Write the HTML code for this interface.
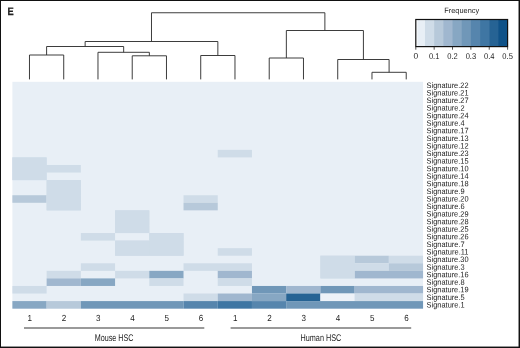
<!DOCTYPE html>
<html><head><meta charset="utf-8"><title>Figure E</title>
<style>html,body{margin:0;padding:0;background:#fff}svg{display:block}text{font-family:"Liberation Sans",sans-serif;fill:#222;text-rendering:geometricPrecision}</style></head><body>
<svg width="520" height="348" viewBox="0 0 520 348">
<rect x="0" y="0" width="520" height="348" fill="#fff"/>
<rect x="12.4" y="81.8" width="410.68" height="226.85" fill="#e8eff6"/>
<rect x="217.74" y="149.86" width="34.22" height="7.56" fill="#cfdce8"/>
<rect x="12.40" y="157.42" width="34.22" height="7.56" fill="#cfdce8"/>
<rect x="12.40" y="164.98" width="68.45" height="7.56" fill="#cfdce8"/>
<rect x="12.40" y="172.54" width="34.22" height="7.56" fill="#cfdce8"/>
<rect x="46.62" y="180.10" width="34.22" height="7.56" fill="#cfdce8"/>
<rect x="46.62" y="187.66" width="34.22" height="7.56" fill="#cfdce8"/>
<rect x="12.40" y="195.23" width="34.22" height="7.56" fill="#b7c9da"/>
<rect x="46.62" y="195.23" width="34.22" height="7.56" fill="#cfdce8"/>
<rect x="183.52" y="195.23" width="34.22" height="7.56" fill="#cfdce8"/>
<rect x="46.62" y="202.79" width="34.22" height="7.56" fill="#cfdce8"/>
<rect x="183.52" y="202.79" width="34.22" height="7.56" fill="#b7c9da"/>
<rect x="115.07" y="210.35" width="34.22" height="7.56" fill="#cfdce8"/>
<rect x="115.07" y="217.91" width="34.22" height="7.56" fill="#cfdce8"/>
<rect x="115.07" y="225.47" width="34.22" height="7.56" fill="#cfdce8"/>
<rect x="80.85" y="233.03" width="34.22" height="7.56" fill="#cfdce8"/>
<rect x="149.29" y="233.03" width="34.22" height="7.56" fill="#cfdce8"/>
<rect x="115.07" y="240.60" width="68.45" height="7.56" fill="#cfdce8"/>
<rect x="115.07" y="248.16" width="68.45" height="7.56" fill="#cfdce8"/>
<rect x="217.74" y="248.16" width="34.22" height="7.56" fill="#cfdce8"/>
<rect x="320.41" y="255.72" width="34.22" height="7.56" fill="#cfdce8"/>
<rect x="354.63" y="255.72" width="34.22" height="7.56" fill="#b7c9da"/>
<rect x="388.85" y="255.72" width="34.22" height="7.56" fill="#cfdce8"/>
<rect x="80.85" y="263.28" width="34.22" height="7.56" fill="#cfdce8"/>
<rect x="183.52" y="263.28" width="68.45" height="7.56" fill="#cfdce8"/>
<rect x="320.41" y="263.28" width="68.45" height="7.56" fill="#cfdce8"/>
<rect x="388.85" y="263.28" width="34.22" height="7.56" fill="#b7c9da"/>
<rect x="46.62" y="270.84" width="34.22" height="7.56" fill="#cfdce8"/>
<rect x="115.07" y="270.84" width="34.22" height="7.56" fill="#cfdce8"/>
<rect x="149.29" y="270.84" width="34.22" height="7.56" fill="#87a7c3"/>
<rect x="217.74" y="270.84" width="34.22" height="7.56" fill="#a0b7cf"/>
<rect x="320.41" y="270.84" width="34.22" height="7.56" fill="#cfdce8"/>
<rect x="354.63" y="270.84" width="68.45" height="7.56" fill="#a0b7cf"/>
<rect x="46.62" y="278.40" width="34.22" height="7.56" fill="#a0b7cf"/>
<rect x="80.85" y="278.40" width="34.22" height="7.56" fill="#87a7c3"/>
<rect x="149.29" y="278.40" width="34.22" height="7.56" fill="#cfdce8"/>
<rect x="217.74" y="278.40" width="34.22" height="7.56" fill="#cfdce8"/>
<rect x="12.40" y="285.97" width="34.22" height="7.56" fill="#cfdce8"/>
<rect x="251.96" y="285.97" width="34.22" height="7.56" fill="#7097b8"/>
<rect x="286.18" y="285.97" width="34.22" height="7.56" fill="#a0b7cf"/>
<rect x="320.41" y="285.97" width="34.22" height="7.56" fill="#7097b8"/>
<rect x="354.63" y="285.97" width="68.45" height="7.56" fill="#a0b7cf"/>
<rect x="183.52" y="293.53" width="34.22" height="7.56" fill="#cfdce8"/>
<rect x="217.74" y="293.53" width="34.22" height="7.56" fill="#a0b7cf"/>
<rect x="251.96" y="293.53" width="34.22" height="7.56" fill="#87a7c3"/>
<rect x="286.18" y="293.53" width="34.22" height="7.56" fill="#266394"/>
<rect x="320.41" y="293.53" width="34.22" height="7.56" fill="#edf2f8"/>
<rect x="354.63" y="293.53" width="68.45" height="7.56" fill="#cfdce8"/>
<rect x="12.40" y="301.09" width="34.22" height="7.56" fill="#87a7c3"/>
<rect x="46.62" y="301.09" width="34.22" height="7.56" fill="#b7c9da"/>
<rect x="80.85" y="301.09" width="102.67" height="7.56" fill="#7097b8"/>
<rect x="183.52" y="301.09" width="34.22" height="7.56" fill="#5685ad"/>
<rect x="217.74" y="301.09" width="34.22" height="7.56" fill="#3f76a3"/>
<rect x="251.96" y="301.09" width="34.22" height="7.56" fill="#5685ad"/>
<rect x="286.18" y="301.09" width="136.89" height="7.56" fill="#7097b8"/>
<rect x="12.40" y="157.42" width="34.22" height="22.69" fill="#cfdce8"/>
<rect x="46.62" y="180.10" width="34.22" height="30.25" fill="#cfdce8"/>
<rect x="115.07" y="210.35" width="34.22" height="22.69" fill="#cfdce8"/>
<rect x="115.07" y="240.60" width="34.22" height="15.12" fill="#cfdce8"/>
<rect x="149.29" y="233.03" width="34.22" height="22.69" fill="#cfdce8"/>
<rect x="320.41" y="255.72" width="34.22" height="22.69" fill="#cfdce8"/>
<path d="M29.48 79.40V55.00H63.73V79.40M132.22 79.40V55.80H166.47V79.40M97.97 79.40V52.30H149.35V55.80M46.60 55.00V46.50H123.66V52.30M200.72 79.40V55.50H234.97V79.40M85.13 46.50V41.50H217.85V55.50M269.23 79.40V58.00H303.48V79.40M371.98 79.40V72.30H406.23V79.40M337.73 79.40V59.50H389.10V72.30M286.35 58.00V30.50H363.41V59.50M151.49 41.50V12.75H324.88V30.50" fill="none" stroke="#333" stroke-width="0.95"/>
<text x="426.6" y="87.90" transform="rotate(0.03 426.6 87.90)" font-size="7.9" textLength="41.9" lengthAdjust="spacingAndGlyphs">Signature.22</text>
<text x="426.6" y="95.47" transform="rotate(0.03 426.6 95.47)" font-size="7.9" textLength="41.9" lengthAdjust="spacingAndGlyphs">Signature.21</text>
<text x="426.6" y="103.04" transform="rotate(0.03 426.6 103.04)" font-size="7.9" textLength="41.9" lengthAdjust="spacingAndGlyphs">Signature.27</text>
<text x="426.6" y="110.62" transform="rotate(0.03 426.6 110.62)" font-size="7.9" textLength="38.0" lengthAdjust="spacingAndGlyphs">Signature.2</text>
<text x="426.6" y="118.19" transform="rotate(0.03 426.6 118.19)" font-size="7.9" textLength="41.9" lengthAdjust="spacingAndGlyphs">Signature.24</text>
<text x="426.6" y="125.76" transform="rotate(0.03 426.6 125.76)" font-size="7.9" textLength="38.0" lengthAdjust="spacingAndGlyphs">Signature.4</text>
<text x="426.6" y="133.33" transform="rotate(0.03 426.6 133.33)" font-size="7.9" textLength="41.9" lengthAdjust="spacingAndGlyphs">Signature.17</text>
<text x="426.6" y="140.90" transform="rotate(0.03 426.6 140.90)" font-size="7.9" textLength="41.9" lengthAdjust="spacingAndGlyphs">Signature.13</text>
<text x="426.6" y="148.48" transform="rotate(0.03 426.6 148.48)" font-size="7.9" textLength="41.9" lengthAdjust="spacingAndGlyphs">Signature.12</text>
<text x="426.6" y="156.05" transform="rotate(0.03 426.6 156.05)" font-size="7.9" textLength="41.9" lengthAdjust="spacingAndGlyphs">Signature.23</text>
<text x="426.6" y="163.62" transform="rotate(0.03 426.6 163.62)" font-size="7.9" textLength="41.9" lengthAdjust="spacingAndGlyphs">Signature.15</text>
<text x="426.6" y="171.19" transform="rotate(0.03 426.6 171.19)" font-size="7.9" textLength="41.9" lengthAdjust="spacingAndGlyphs">Signature.10</text>
<text x="426.6" y="178.76" transform="rotate(0.03 426.6 178.76)" font-size="7.9" textLength="41.9" lengthAdjust="spacingAndGlyphs">Signature.14</text>
<text x="426.6" y="186.34" transform="rotate(0.03 426.6 186.34)" font-size="7.9" textLength="41.9" lengthAdjust="spacingAndGlyphs">Signature.18</text>
<text x="426.6" y="193.91" transform="rotate(0.03 426.6 193.91)" font-size="7.9" textLength="38.0" lengthAdjust="spacingAndGlyphs">Signature.9</text>
<text x="426.6" y="201.48" transform="rotate(0.03 426.6 201.48)" font-size="7.9" textLength="41.9" lengthAdjust="spacingAndGlyphs">Signature.20</text>
<text x="426.6" y="209.05" transform="rotate(0.03 426.6 209.05)" font-size="7.9" textLength="38.0" lengthAdjust="spacingAndGlyphs">Signature.6</text>
<text x="426.6" y="216.62" transform="rotate(0.03 426.6 216.62)" font-size="7.9" textLength="41.9" lengthAdjust="spacingAndGlyphs">Signature.29</text>
<text x="426.6" y="224.20" transform="rotate(0.03 426.6 224.20)" font-size="7.9" textLength="41.9" lengthAdjust="spacingAndGlyphs">Signature.28</text>
<text x="426.6" y="231.77" transform="rotate(0.03 426.6 231.77)" font-size="7.9" textLength="41.9" lengthAdjust="spacingAndGlyphs">Signature.25</text>
<text x="426.6" y="239.34" transform="rotate(0.03 426.6 239.34)" font-size="7.9" textLength="41.9" lengthAdjust="spacingAndGlyphs">Signature.26</text>
<text x="426.6" y="246.91" transform="rotate(0.03 426.6 246.91)" font-size="7.9" textLength="38.0" lengthAdjust="spacingAndGlyphs">Signature.7</text>
<text x="426.6" y="254.48" transform="rotate(0.03 426.6 254.48)" font-size="7.9" textLength="41.9" lengthAdjust="spacingAndGlyphs">Signature.11</text>
<text x="426.6" y="262.06" transform="rotate(0.03 426.6 262.06)" font-size="7.9" textLength="41.9" lengthAdjust="spacingAndGlyphs">Signature.30</text>
<text x="426.6" y="269.63" transform="rotate(0.03 426.6 269.63)" font-size="7.9" textLength="38.0" lengthAdjust="spacingAndGlyphs">Signature.3</text>
<text x="426.6" y="277.20" transform="rotate(0.03 426.6 277.20)" font-size="7.9" textLength="41.9" lengthAdjust="spacingAndGlyphs">Signature.16</text>
<text x="426.6" y="284.77" transform="rotate(0.03 426.6 284.77)" font-size="7.9" textLength="38.0" lengthAdjust="spacingAndGlyphs">Signature.8</text>
<text x="426.6" y="292.34" transform="rotate(0.03 426.6 292.34)" font-size="7.9" textLength="41.9" lengthAdjust="spacingAndGlyphs">Signature.19</text>
<text x="426.6" y="299.92" transform="rotate(0.03 426.6 299.92)" font-size="7.9" textLength="38.0" lengthAdjust="spacingAndGlyphs">Signature.5</text>
<text x="426.6" y="307.49" transform="rotate(0.03 426.6 307.49)" font-size="7.9" textLength="38.0" lengthAdjust="spacingAndGlyphs">Signature.1</text>
<text x="29.78" y="321.0" transform="rotate(0.03 29.78 321.0)" font-size="8.8" text-anchor="middle" textLength="4.5" lengthAdjust="spacingAndGlyphs">1</text>
<text x="64.03" y="321.0" transform="rotate(0.03 64.03 321.0)" font-size="8.8" text-anchor="middle" textLength="4.5" lengthAdjust="spacingAndGlyphs">2</text>
<text x="98.27" y="321.0" transform="rotate(0.03 98.27 321.0)" font-size="8.8" text-anchor="middle" textLength="4.5" lengthAdjust="spacingAndGlyphs">3</text>
<text x="132.53" y="321.0" transform="rotate(0.03 132.53 321.0)" font-size="8.8" text-anchor="middle" textLength="4.5" lengthAdjust="spacingAndGlyphs">4</text>
<text x="166.78" y="321.0" transform="rotate(0.03 166.78 321.0)" font-size="8.8" text-anchor="middle" textLength="4.5" lengthAdjust="spacingAndGlyphs">5</text>
<text x="201.03" y="321.0" transform="rotate(0.03 201.03 321.0)" font-size="8.8" text-anchor="middle" textLength="4.5" lengthAdjust="spacingAndGlyphs">6</text>
<text x="235.28" y="321.0" transform="rotate(0.03 235.28 321.0)" font-size="8.8" text-anchor="middle" textLength="4.5" lengthAdjust="spacingAndGlyphs">1</text>
<text x="269.53" y="321.0" transform="rotate(0.03 269.53 321.0)" font-size="8.8" text-anchor="middle" textLength="4.5" lengthAdjust="spacingAndGlyphs">2</text>
<text x="303.78" y="321.0" transform="rotate(0.03 303.78 321.0)" font-size="8.8" text-anchor="middle" textLength="4.5" lengthAdjust="spacingAndGlyphs">3</text>
<text x="338.03" y="321.0" transform="rotate(0.03 338.03 321.0)" font-size="8.8" text-anchor="middle" textLength="4.5" lengthAdjust="spacingAndGlyphs">4</text>
<text x="372.28" y="321.0" transform="rotate(0.03 372.28 321.0)" font-size="8.8" text-anchor="middle" textLength="4.5" lengthAdjust="spacingAndGlyphs">5</text>
<text x="406.53" y="321.0" transform="rotate(0.03 406.53 321.0)" font-size="8.8" text-anchor="middle" textLength="4.5" lengthAdjust="spacingAndGlyphs">6</text>
<path d="M24 327.95H204.3M230.6 327.95H411.2" stroke="#7a7a7a" stroke-width="1.5" fill="none"/>
<text x="114.15" y="341" transform="rotate(0.03 114.15 341)" font-size="9.7" text-anchor="middle" textLength="38.7" lengthAdjust="spacingAndGlyphs">Mouse HSC</text>
<text x="320.9" y="341" transform="rotate(0.03 320.9 341)" font-size="9.7" text-anchor="middle" textLength="40.8" lengthAdjust="spacingAndGlyphs">Human HSC</text>
<text x="7.6" y="14.95" transform="rotate(0.03 7.6 14.95)" font-size="10.7" font-weight="bold" fill="#111" stroke="#111" stroke-width="0.25" textLength="6.2" lengthAdjust="spacingAndGlyphs">E</text>
<rect x="415.80" y="19.5" width="9.78" height="27.1" fill="#e8eff6"/>
<rect x="424.98" y="19.5" width="9.78" height="27.1" fill="#cfdce8"/>
<rect x="434.16" y="19.5" width="9.78" height="27.1" fill="#b7c9da"/>
<rect x="443.34" y="19.5" width="9.78" height="27.1" fill="#a0b7cf"/>
<rect x="452.52" y="19.5" width="9.78" height="27.1" fill="#87a7c3"/>
<rect x="461.70" y="19.5" width="9.78" height="27.1" fill="#7097b8"/>
<rect x="470.88" y="19.5" width="9.78" height="27.1" fill="#5685ad"/>
<rect x="480.06" y="19.5" width="9.78" height="27.1" fill="#3f76a3"/>
<rect x="489.24" y="19.5" width="9.78" height="27.1" fill="#266394"/>
<rect x="498.42" y="19.5" width="9.18" height="27.1" fill="#0f5288"/>
<rect x="416.2" y="19.5" width="1.2" height="27.1" fill="#fff"/>
<rect x="415.8" y="19.5" width="91.8" height="27.1" fill="none" stroke="#111" stroke-width="1.2"/>
<text x="415.80" y="58.8" transform="rotate(0.03 415.80 58.8)" font-size="8.4" text-anchor="middle">0</text>
<text x="434.16" y="58.8" transform="rotate(0.03 434.16 58.8)" font-size="8.4" text-anchor="middle" textLength="10.5" lengthAdjust="spacingAndGlyphs">0.1</text>
<text x="452.52" y="58.8" transform="rotate(0.03 452.52 58.8)" font-size="8.4" text-anchor="middle" textLength="10.5" lengthAdjust="spacingAndGlyphs">0.2</text>
<text x="470.88" y="58.8" transform="rotate(0.03 470.88 58.8)" font-size="8.4" text-anchor="middle" textLength="10.5" lengthAdjust="spacingAndGlyphs">0.3</text>
<text x="489.24" y="58.8" transform="rotate(0.03 489.24 58.8)" font-size="8.4" text-anchor="middle" textLength="10.5" lengthAdjust="spacingAndGlyphs">0.4</text>
<text x="507.60" y="58.8" transform="rotate(0.03 507.60 58.8)" font-size="8.4" text-anchor="middle" textLength="10.5" lengthAdjust="spacingAndGlyphs">0.5</text>
<path d="M415.80 46.6V49.70M434.16 46.6V49.70M452.52 46.6V49.70M470.88 46.6V49.70M489.24 46.6V49.70M507.60 46.6V49.70" stroke="#222" stroke-width="0.8" fill="none"/>
<text x="461.7" y="13.1" transform="rotate(0.03 461.7 13.1)" font-size="7.6" text-anchor="middle" textLength="34.8" lengthAdjust="spacingAndGlyphs">Frequency</text>
<rect x="0.5" y="0.5" width="518.75" height="346.75" fill="none" stroke="#111" stroke-width="1"/>
<path d="M519.35 0V348M0 347.38H520" stroke="#111" stroke-width="1.25" fill="none"/>
</svg></body></html>
